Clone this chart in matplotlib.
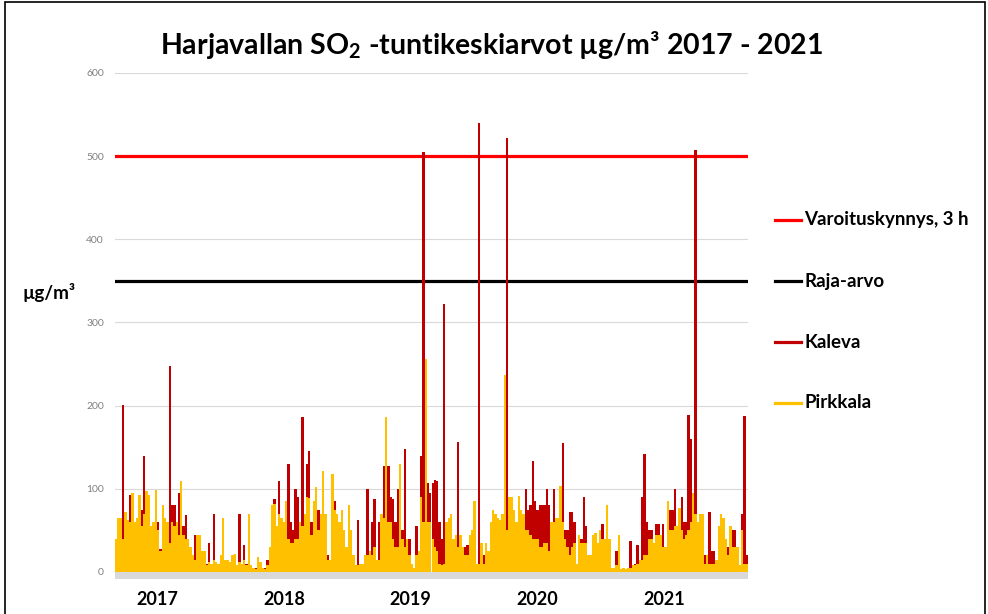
import matplotlib
matplotlib.use("Agg")
import matplotlib.pyplot as plt
from matplotlib.lines import Line2D
from matplotlib.patches import Rectangle
import pandas as pd

# ---- data (approx. weekly maxima) ----
pirkkala = [40, 65, 65, 40, 72, 62, 60, 95, 60, 65, 93, 55, 70, 97, 93, 55, 60, 99, 50, 25,
            80, 65, 60, 35, 60, 55, 60, 45, 110, 45, 40, 40, 30, 20, 15, 45, 45, 25, 25, 8,
            12, 10, 15, 12, 10, 20, 65, 15, 15, 12, 20, 22, 8, 12, 10, 15, 8, 70, 8, 5,
            3, 18, 12, 5, 3, 8, 30, 80, 82, 55, 70, 65, 60, 85, 40, 35, 35, 40, 40, 60,
            55, 70, 90, 89, 45, 85, 102, 50, 70, 122, 70, 15, 15, 118, 75, 70, 60, 75, 50, 30,
            80, 50, 20, 8, 8, 10, 10, 20, 20, 25, 20, 30, 15, 15, 70, 65, 186, 60, 60, 40,
            30, 30, 130, 40, 30, 40, 20, 10, 5, 20, 25, 90, 60, 256, 60, 60, 40, 30, 25, 10,
            8, 10, 60, 65, 70, 40, 45, 30, 45, 30, 20, 20, 45, 50, 85, 10, 10, 35, 10, 35,
            25, 60, 75, 70, 65, 62, 70, 237, 50, 90, 90, 75, 60, 91, 75, 70, 50, 50, 45, 40,
            40, 40, 30, 30, 35, 35, 25, 60, 60, 65, 65, 103, 60, 40, 30, 20, 30, 35, 10, 45,
            35, 35, 35, 20, 20, 45, 47, 35, 50, 40, 40, 80, 40, 5, 5, 8, 45, 3, 5, 3,
            5, 5, 8, 8, 10, 15, 15, 20, 20, 40, 40, 35, 45, 45, 45, 30, 30, 85, 50, 50,
            55, 55, 77, 50, 40, 45, 50, 60, 95, 70, 60, 70, 70, 10, 20, 10, 10, 10, 15, 55,
            70, 65, 40, 20, 55, 30, 30, 30, 8, 50, 10, 10]
kaleva = [30, 40, 45, 201, 50, 45, 92, 60, 40, 50, 60, 75, 140, 70, 60, 40, 45, 60, 60, 28,
          50, 50, 40, 248, 80, 80, 30, 95, 55, 55, 68, 30, 20, 15, 45, 30, 20, 15, 10, 10,
          35, 8, 70, 10, 8, 10, 15, 10, 10, 8, 8, 10, 8, 70, 8, 33, 10, 8, 5, 5,
          5, 5, 5, 3, 5, 15, 20, 60, 88, 40, 110, 60, 45, 50, 130, 60, 50, 100, 90, 40,
          186, 50, 130, 145, 60, 60, 70, 75, 50, 60, 50, 20, 10, 60, 85, 40, 30, 30, 20, 15,
          20, 20, 10, 5, 62, 5, 5, 10, 100, 20, 60, 88, 10, 60, 40, 127, 60, 127, 90, 88,
          60, 100, 50, 50, 148, 20, 40, 8, 5, 55, 20, 140, 505, 60, 107, 95, 107, 111, 110, 60,
          40, 322, 30, 40, 40, 30, 30, 156, 30, 30, 30, 33, 20, 25, 30, 8, 540, 15, 20, 15,
          15, 30, 40, 40, 40, 40, 40, 50, 522, 60, 60, 50, 40, 60, 60, 65, 100, 75, 80, 133,
          85, 75, 80, 80, 80, 100, 80, 50, 100, 60, 50, 60, 155, 50, 50, 72, 72, 60, 8, 20,
          40, 90, 55, 15, 10, 20, 20, 15, 30, 58, 30, 30, 20, 5, 5, 25, 10, 3, 3, 3,
          3, 37, 5, 10, 33, 10, 90, 142, 60, 50, 50, 25, 58, 58, 30, 58, 15, 40, 75, 75,
          100, 40, 40, 90, 60, 60, 189, 160, 60, 508, 40, 40, 30, 20, 10, 72, 25, 25, 10, 30,
          30, 30, 20, 30, 30, 50, 50, 10, 5, 70, 188, 20]
period_start = "2016-09-01"
period_end = "2021-09-01"
warning_level = 500   # Varoituskynnys, 3 h
limit_value = 350     # Raja-arvo
year_labels = ["2017", "2018", "2019", "2020", "2021"]
y_ticks = [0, 100, 200, 300, 400, 500, 600]

edges = pd.date_range(period_start, period_end, periods=len(kaleva) + 1)
starts = edges[:-1]
width = (edges[1] - edges[0]).total_seconds() / 86400.0

W, H = 988, 614
fig = plt.figure(figsize=(W / 100, H / 100), dpi=100)
FONT = "Lato"
plt.rcParams["mathtext.fontset"] = "custom"
plt.rcParams["mathtext.rm"] = "Lato:bold"
plt.rcParams["mathtext.bf"] = "Lato:bold"

def px(x0, y0, x1, y1):
    return [x0 / W, 1 - y1 / H, (x1 - x0) / W, (y1 - y0) / H]

ymin = -9
ax_bottom_px = 572 + (-ymin) * (572 - 156.7) / 500
ax = fig.add_axes(px(115, 73, 748, ax_bottom_px))
ax.set_ylim(ymin, 600)
ax.set_xlim(edges[0], edges[-1])

# grid
for t in y_ticks[1:]:
    ax.axhline(t, color="#D9D9D9", lw=0.8, zorder=0)
ax.axhspan(ymin, 0, color="#D9D9D9", lw=0, zorder=0.5)

ax.axhline(warning_level, color="#FF0000", lw=2.3, zorder=1)
ax.axhline(limit_value, color="#000000", lw=2.3, zorder=1)

ax.bar(starts, kaleva, width=width, align="edge", color="#C00000", lw=0, zorder=2)
ax.bar(starts, pirkkala, width=width, align="edge", color="#FFC000", lw=0, zorder=3)

for s in ax.spines.values():
    s.set_visible(False)
ax.set_yticks(y_ticks)
ax.set_yticklabels([str(v) for v in y_ticks], fontsize=7.5, color="#808080", family=FONT)
ax.tick_params(axis="y", length=0, pad=8)
ticks = [pd.Timestamp(f"{y}-01-01") for y in year_labels]
ax.set_xticks(ticks)
ax.set_xticklabels(year_labels, fontsize=13, fontweight="bold", family=FONT, color="#000000")
ax.tick_params(axis="x", length=0, pad=8)

# title
fig.text(492 / W, 1 - 45 / H, r"Harjavallan SO$_2$ -tuntikeskiarvot µg/m³ 2017 - 2021",
         ha="center", va="center", fontsize=20.5, fontweight="bold", family=FONT)
# y unit
fig.text(22 / W, 1 - 293 / H, "µg/m³", ha="left", va="center", fontsize=13.5,
         fontweight="bold", family=FONT)

# legend
entries = [("Varoituskynnys, 3 h", "#FF0000", 220), ("Raja-arvo", "#000000", 281),
           ("Kaleva", "#C00000", 342), ("Pirkkala", "#FFC000", 403)]
for lab, col, yy in entries:
    fig.add_artist(Line2D([775 / W, 801 / W], [1 - yy / H, 1 - yy / H], color=col, lw=2.3,
                          transform=fig.transFigure))
    fig.text(804 / W, 1 - yy / H, lab, ha="left", va="center", fontsize=13.5,
             fontweight="bold", family=FONT)

# frame
fig.add_artist(Rectangle((5 / W, -0.1), 980 / W, 1.1 - 2 / H, fill=False, ec="#000000",
                         lw=1.2, transform=fig.transFigure))

fig.savefig("out.png", dpi=100)
